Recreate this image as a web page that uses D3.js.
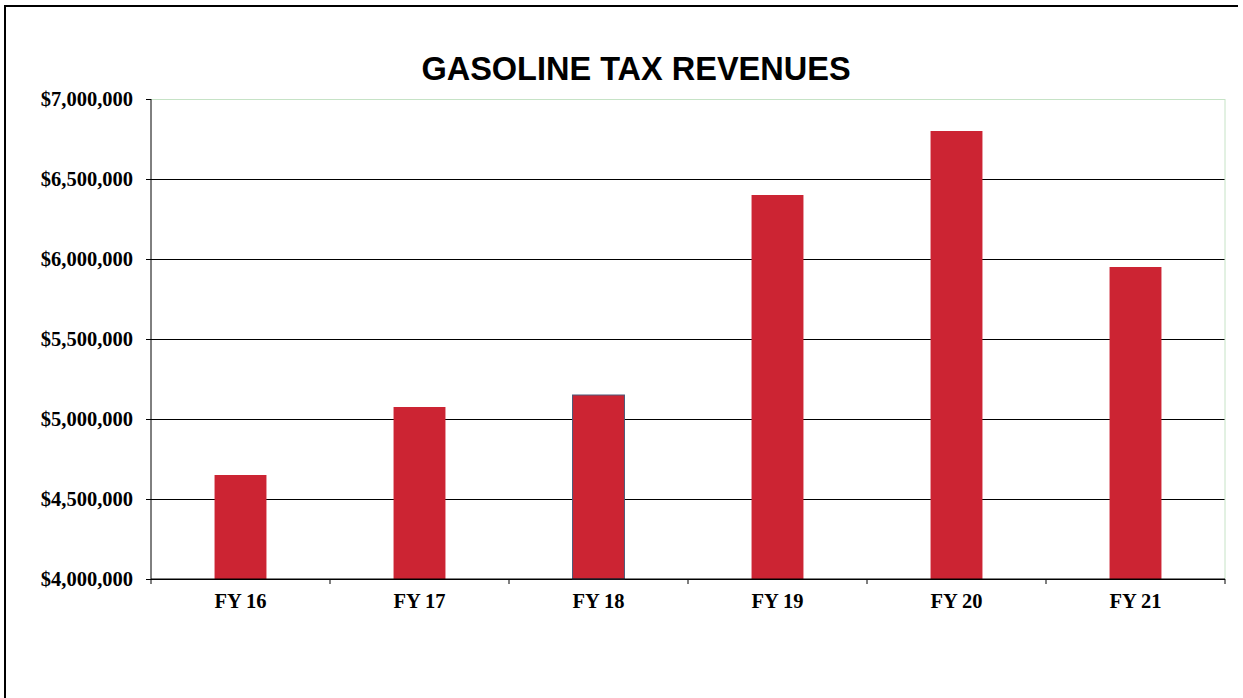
<!DOCTYPE html>
<html>
<head>
<meta charset="utf-8">
<script src="https://cdn.jsdelivr.net/npm/d3@7"></script>
<style>
	body { margin: 0; background: #fff; }
	.title { font-family: 'Liberation Sans', Arial, sans-serif; font-weight: bold; font-size: 32.5px; }
	.axis text { font-family: 'Liberation Serif', 'Times New Roman', serif; font-weight: bold; font-size: 20.5px; fill: #000; }
</style>
</head>
<body>
<div id="chart"></div>
<script>
let width = 1243
let height = 698

let categories = ['FY 16', 'FY 17', 'FY 18', 'FY 19', 'FY 20', 'FY 21']
let revenues = [4650000, 5075000, 5150000, 6400000, 6800000, 5950000]
let yTicks = [4000000, 4500000, 5000000, 5500000, 6000000, 6500000, 7000000]

let margins = {
	'top': 99,
	'right': 18,
	'bottom': 119,
	'left': 151,
}

let innerW = width - margins.left - margins.right
let innerH = height - margins.top - margins.bottom

let xScale = d3.scaleBand()
	.domain(categories)
	.range([0, innerW])
	.padding(0)

let yScale = d3.scaleLinear()
	.domain([4000000, 7000000])
	.range([innerH, 0])

let barW = xScale.bandwidth() * 0.29

let svg = d3.select('#chart').append('svg')
	.attr('width', width)
	.attr('height', height)

// outer frame (only left and top show in the picture)
svg.append('path')
	.attr('d', 'M5,' + (height + 5) + 'V6H1238')
	.attr('fill', 'none')
	.attr('stroke', '#000')
	.attr('stroke-width', 2)

svg.append('text')
	.attr('class', 'title')
	.attr('x', 636)
	.attr('y', 80)
	.attr('text-anchor', 'middle')
	.text('GASOLINE TAX REVENUES')

let inner = svg.append('g')
	.attr('transform', 'translate(' + margins.left + ',' + margins.top + ')')

// gridlines
let grid = inner.append('g')
	.call(d3.axisLeft(yScale).tickValues(yTicks).tickSize(-innerW).tickFormat(''))
grid.select('.domain').remove()
grid.selectAll('.tick line')
	.attr('stroke', (d) => d === 7000000 ? '#c6e3c6' : '#000')

// right border of plot area
inner.append('line')
	.attr('x1', innerW).attr('x2', innerW)
	.attr('y1', 0).attr('y2', innerH)
	.attr('stroke', '#c6e3c6')

let marks = inner.append('g')

marks.selectAll('rect')
	.data(revenues)
	.enter().append('rect')
	.attr('x', (d, i) => xScale(categories[i]) + (xScale.bandwidth() - barW) / 2)
	.attr('y', (d) => yScale(d))
	.attr('width', barW)
	.attr('height', (d) => innerH - yScale(d))
	.attr('fill', '#cc2433')
	.attr('stroke', (d, i) => categories[i] === 'FY 18' ? '#4a5878' : 'none')
	.attr('stroke-width', 1)

// y axis
let yAxis = d3.axisLeft(yScale)
	.tickValues(yTicks)
	.tickSize(5)
	.tickPadding(13)
	.tickFormat(d3.format('$,'))

let yG = inner.append('g').attr('class', 'axis').call(yAxis)
yG.select('.domain').attr('d', 'M0,0V' + innerH).attr('stroke', '#000')
yG.selectAll('.tick line').attr('stroke', '#000')

// x axis: labels centred, ticks at category edges
let xAxis = d3.axisBottom(xScale)
	.tickSize(0)
	.tickPadding(14)

let xG = inner.append('g')
	.attr('class', 'axis')
	.attr('transform', 'translate(0,' + innerH + ')')
	.call(xAxis)
xG.select('.domain').attr('d', 'M0,0H' + innerW).attr('stroke', '#000')

let edges = categories.map((c) => xScale(c)).concat([innerW])
xG.selectAll('.edge')
	.data(edges)
	.enter().append('line')
	.attr('class', 'edge')
	.attr('x1', (d) => d).attr('x2', (d) => d)
	.attr('y1', 0).attr('y2', 5)
	.attr('stroke', '#000')
</script>
</body>
</html>
